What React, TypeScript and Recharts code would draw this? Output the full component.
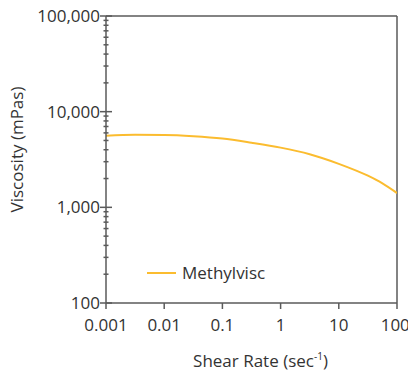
import React from "react";
import { Label, Line, LineChart, ReferenceLine, XAxis, YAxis } from "recharts";

const shearRate = [0.001, 0.00316, 0.01, 0.0316, 0.1, 0.316, 1, 3.16, 10, 31.6, 56.2, 100];
const methylvisc = [5610, 5730, 5710, 5550, 5250, 4740, 4210, 3590, 2850, 2140, 1780, 1410];

const xTicks = [0.001, 0.01, 0.1, 1, 10, 100];
const yMajor = [100, 1000, 10000, 100000];
const yTicks = [
  100, 200, 300, 400, 500, 600, 700, 800, 900,
  1000, 2000, 3000, 4000, 5000, 6000, 7000, 8000, 9000,
  10000, 20000, 30000, 40000, 50000, 60000, 70000, 80000, 90000,
  100000,
];

const data = shearRate.map((x, i) => ({ x, visc: methylvisc[i] }));

const FONT = "'Open Sans', sans-serif";
const FS = 17;
const AXIS = "#5a5a5a";
const TEXT = "#333";
const LINE = "#FBBC2F";

const YTick = (props: any) => {
  const { x, y, payload } = props;
  const major = yMajor.includes(payload.value);
  const len = major ? 6 : 2.5;
  return (
    <g>
      <line x1={x - len} x2={x + len} y1={y} y2={y} stroke={AXIS} strokeWidth={1.5} />
      {major && (
        <text x={x - 6} y={y} dy="0.35em" textAnchor="end" fill={TEXT} fontSize={FS} fontFamily={FONT}>
          {payload.value.toLocaleString("en-US")}
        </text>
      )}
    </g>
  );
};

const XTitle = (props: any) => {
  const { viewBox } = props;
  const cx = viewBox.x + viewBox.width / 2 + 9;
  return (
    <text x={cx} y={viewBox.y + 64} textAnchor="middle" fill={TEXT} fontSize={FS} fontFamily={FONT}>
      Shear Rate (sec<tspan fontSize={10} dy={-7}>-1</tspan><tspan dy={7}>)</tspan>
    </text>
  );
};

const YTitle = (props: any) => {
  const { viewBox } = props;
  const cy = viewBox.y + viewBox.height / 2 - 10;
  const tx = 9;
  return (
    <text
      x={tx}
      y={cy}
      dy="0.35em"
      transform={`rotate(-90 ${tx} ${cy})`}
      textAnchor="middle"
      fill={TEXT}
      fontSize={FS}
      fontFamily={FONT}
    >
      Viscosity (mPas)
    </text>
  );
};

const App: React.FC = () => {
  return (
    <div style={{ width: 400, height: 364, position: "relative" }}>
      <style>{`body { margin: 8px 8px 0 8px; } svg.recharts-surface { overflow: visible; }`}</style>
      <LineChart width={400} height={364} data={data} margin={{ top: 8, right: 11, left: 0, bottom: 0 }}>
        <XAxis
          dataKey="x"
          type="number"
          scale="log"
          domain={[0.001, 100]}
          ticks={xTicks}
          tickFormatter={(v: number) => String(v)}
          height={69}
          stroke={AXIS}
          strokeWidth={1.5}
          tickSize={6}
          tickMargin={10}
          tick={{ fill: TEXT, fontSize: FS, fontFamily: FONT }}
          allowDataOverflow
        >
          <Label content={<XTitle />} />
        </XAxis>
        <YAxis
          type="number"
          scale="log"
          domain={[100, 100000]}
          ticks={yTicks}
          interval={0}
          width={98}
          stroke={AXIS}
          strokeWidth={1.5}
          tickLine={false}
          tickSize={0}
          tickMargin={0}
          tick={<YTick />}
          allowDataOverflow
        >
          <Label content={<YTitle />} />
        </YAxis>
        <ReferenceLine y={100000} stroke={AXIS} strokeWidth={1.5} />
        <ReferenceLine x={100} stroke={AXIS} strokeWidth={1.5} />
        <Line
          dataKey="visc"
          type="monotone"
          stroke={LINE}
          strokeWidth={2}
          dot={false}
          isAnimationActive={false}
        />
      </LineChart>
      <div
        style={{
          position: "absolute",
          left: 139,
          top: 253,
          display: "flex",
          alignItems: "center",
          fontFamily: FONT,
          fontSize: FS,
          lineHeight: "24px",
          color: TEXT,
          whiteSpace: "nowrap",
        }}
      >
        <span style={{ display: "inline-block", width: 29, height: 2, background: LINE, marginRight: 6 }} />
        Methylvisc
      </div>
    </div>
  );
};

export default App;
